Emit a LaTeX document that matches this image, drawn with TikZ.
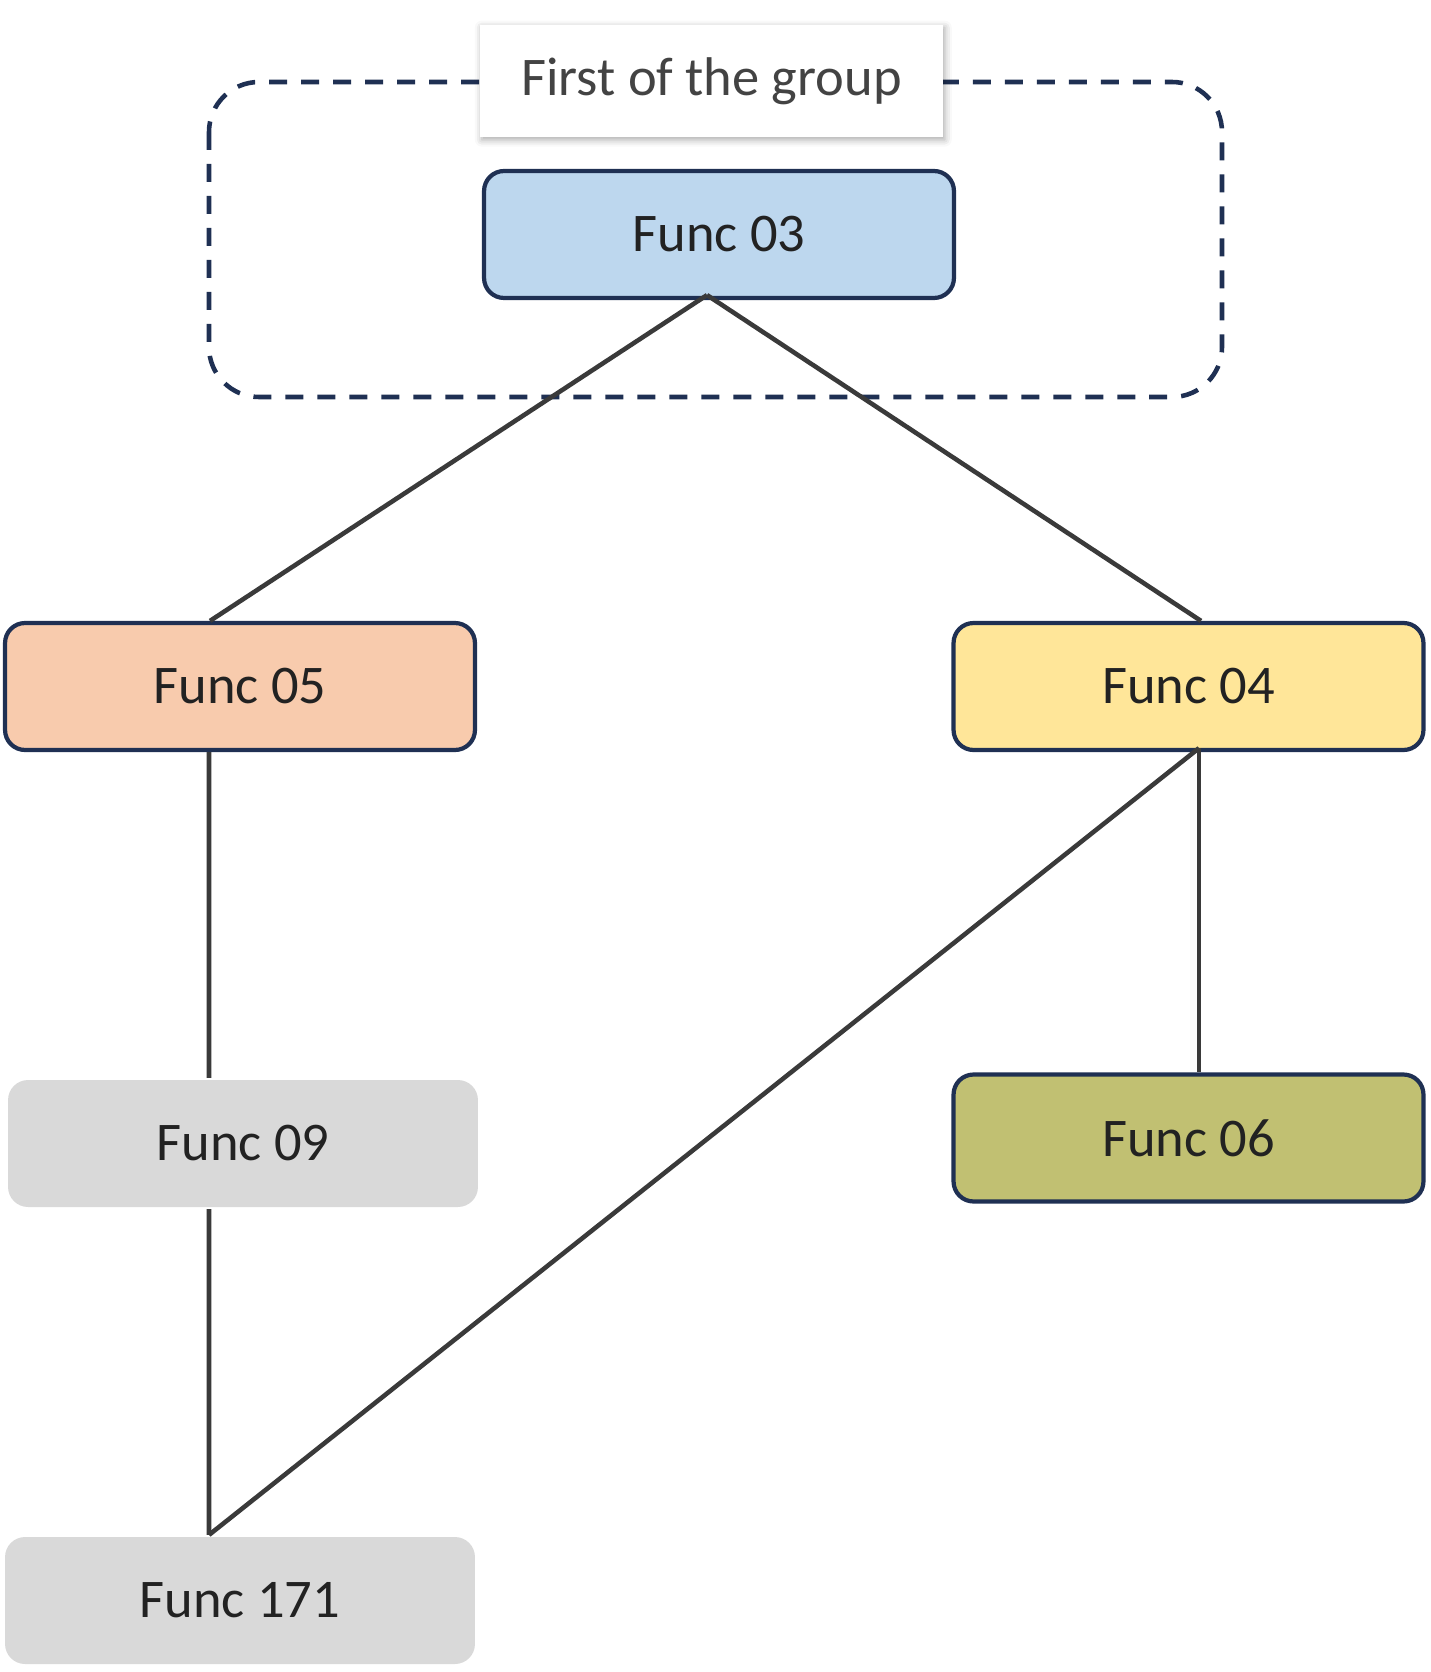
\documentclass[tikz,border=0pt]{standalone}
\usepackage{fontspec}
\setmainfont{Carlito}
\usepackage{xcolor}
\usetikzlibrary{positioning,%
  calc,%
  shadows.blur
}

\definecolor{navy}{HTML}{1F3053}
\definecolor{wire}{HTML}{3A3A3A}
\definecolor{txt}{HTML}{222222}
\definecolor{fblue}{HTML}{BDD7EE}
\definecolor{fpeach}{HTML}{F8CBAD}
\definecolor{fyellow}{HTML}{FFE699}
\definecolor{folive}{HTML}{C1C072}
\definecolor{fgray}{HTML}{D9D9D9}

\begin{document}
\begin{tikzpicture}[x=0.02cm,y=-0.02cm,
    func/.style={draw=navy, line width=2.4pt, rounded corners=0.4cm,
      minimum width=9.4cm, minimum height=2.54cm, inner sep=0pt,
      text=txt, font=\fontsize{31}{37}\selectfont},
    funcplain/.style={func, draw=none},
    link/.style={draw=wire, line width=2.6pt},
    groupbox/.style={draw=navy, line width=2.6pt, rounded corners=1cm,
      dash pattern=on 0.36cm off 0.28cm},
    grouptitle/.style={fill=white, minimum width=9.26cm, minimum height=2.24cm,
      inner sep=0pt, text=txt!85!white, font=\fontsize{31}{37}\selectfont,
      blur shadow={shadow xshift=1pt, shadow yshift=-1.5pt,
        shadow blur radius=4pt, shadow opacity=35}}]
            \useasboundingbox (0,0) rectangle (1430,1672);

            % group around the first node
            \draw [groupbox] (209,82) rectangle (1222,397);
            \node [grouptitle] (title) at (711.5,81) {First of the group};

            \node [func, fill=fblue] (f03) at (719,234.5) {Func 03};
            \node [func, fill=fpeach] (f05) at (240,686.5) {Func 05};
            \node [func, fill=fyellow] (f04) at (1188.5,686.5) {Func 04};
            \node [funcplain, fill=fgray] (f09) at (243,1143.5) {Func 09};
            \node [func, fill=folive] (f06) at (1188.5,1138) {Func 06};
            \node [funcplain, fill=fgray] (f171) at (240,1600.5) {Func 171};

            \coordinate (top03) at ([xshift=-0.24cm,yshift=0.1cm]f03.south);
            \coordinate (bot04) at ([xshift=0.21cm,yshift=0.08cm]f04.south);

            \draw [link] (top03) -- ([xshift=-0.6cm]f05.north);
            \draw [link] (top03) -- ([xshift=0.25cm]f04.north);
            \draw [link] ([xshift=-0.62cm]f05.south) -- ([xshift=-0.68cm]f09.north);
            \draw [link] ([xshift=-0.68cm]f09.south) -- ([xshift=-0.62cm]f171.north);
            \draw [link] (bot04) -- ([xshift=0.21cm]f06.north);
            \draw [link] (bot04) -- ([xshift=-0.62cm]f171.north);
        \end{tikzpicture}
\end{document}
